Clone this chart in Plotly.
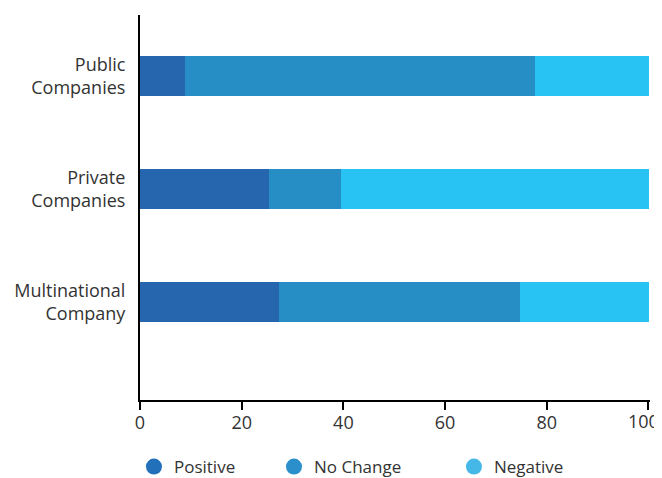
import plotly.graph_objects as go

categories = ["Multinational<br>Company", "Private<br>Companies", "Public<br>Companies"]
series_names = ["Positive", "No Change", "Negative"]
positive = [27.3, 25.3, 8.8]
no_change = [47.4, 14.3, 68.8]
negative = [25.5, 60.6, 22.6]
x_ticks = [0, 20, 40, 60, 80, 100]
x_tick_text = ["0", "20", "40", "60", "80", ""]
last_tick = [100]
last_tick_text = ["100"]

bar_colors = ["#2566AF", "#268EC5", "#28C3F2"]
legend_colors = ["#226FBA", "#2A8FCB", "#45B8E8"]
values = [positive, no_change, negative]

font_family = "'Open Sans', Lato, sans-serif"
text_color = "#333333"
x_range = [0, 100.3]

fig = go.Figure()
for name, vals, col in zip(series_names, values, bar_colors):
    fig.add_trace(go.Bar(y=categories, x=vals, orientation="h", name=name,
                         marker=dict(color=col, line=dict(width=0)),
                         width=0.36, showlegend=False))

# invisible helper trace so the secondary x axis (last tick label) is drawn
fig.add_trace(go.Scatter(x=[None], y=[None], xaxis="x2", yaxis="y",
                         showlegend=False, hoverinfo="skip"))

legend_ids = ["legend", "legend2", "legend3"]
legend_x = [0.1926, 0.4067, 0.6819]
for name, col, lid in zip(series_names, legend_colors, legend_ids):
    fig.add_trace(go.Scatter(x=[None], y=[None], mode="markers", name=name,
                             marker=dict(symbol="circle", size=16, color=col),
                             showlegend=True, legend=lid))

layout_legends = {}
for lid, lx in zip(legend_ids, legend_x):
    layout_legends[lid] = dict(x=lx, y=0.0616, xref="container", yref="container",
                               xanchor="left", yanchor="top",
                               orientation="h", itemwidth=30,
                               font=dict(family=font_family, size=17, color=text_color),
                               bgcolor="rgba(0,0,0,0)")

fig.update_layout(
    width=654, height=470,
    margin=dict(l=132, r=12, t=7, b=78),
    barmode="stack",
    plot_bgcolor="white", paper_bgcolor="white",
    font=dict(family=font_family, size=18, color=text_color),
    xaxis=dict(range=x_range, tickvals=x_ticks, ticktext=x_tick_text,
               showgrid=False, zeroline=False,
               showline=True, linecolor="black", linewidth=2, automargin=False,
               ticks="outside", ticklen=8, tickwidth=2, tickcolor="black",
               ticklabelstandoff=-3,
               tickfont=dict(size=18, color=text_color)),
    xaxis2=dict(range=x_range, overlaying="x", anchor="y", side="bottom",
                tickvals=last_tick, ticktext=last_tick_text,
                showgrid=False, zeroline=False, showline=False, automargin=False,
                ticks="outside", ticklen=8, tickwidth=2, tickcolor="black",
                ticklabelshift=-5, ticklabelstandoff=-3,
                ticklabeloverflow="allow",
                tickfont=dict(size=18, color=text_color)),
    yaxis=dict(range=[-0.867, 2.54], showgrid=False, zeroline=False,
               showline=True, linecolor="black", linewidth=2, automargin=False,
               ticks="", ticklabelstandoff=9,
               tickfont=dict(size=18, color=text_color)),
    **layout_legends,
)

fig.write_html("out.html")
